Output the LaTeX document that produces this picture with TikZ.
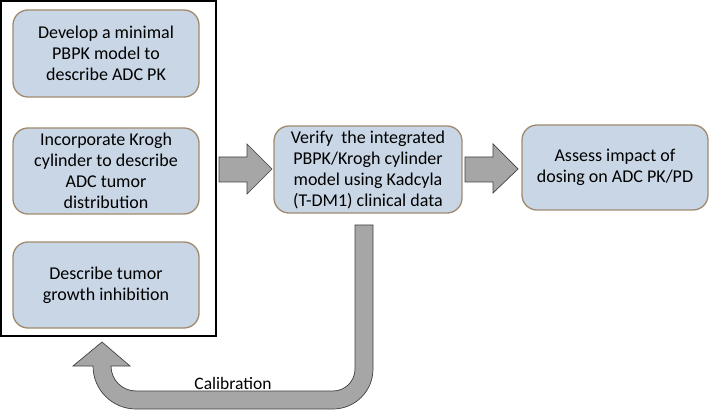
\documentclass[tikz,border=0pt]{standalone}
\usepackage{fontspec}
\setmainfont{Carlito}
\definecolor{boxfill}{HTML}{C9D6E5}
\definecolor{boxline}{HTML}{A08A6E}
\definecolor{arrfill}{HTML}{A6A6A6}
\definecolor{arrline}{HTML}{404040}
\begin{document}
\begin{tikzpicture}[x=1pt,y=1pt,
  stepbox/.style={draw=boxline,fill=boxfill,line width=1.3pt,rounded corners=15pt,
    align=center,font=\fontsize{18}{21}\selectfont,inner sep=0pt},
  blockarrow/.style={draw=arrline,fill=arrfill,line width=0.7pt,line join=miter}]
\useasboundingbox (0,0) rectangle (709,410);
\node[draw=black,line width=1.5pt,minimum width=215pt,minimum height=335pt,inner sep=0pt] (frame) at (108.5,241.5) {};
\node[stepbox,minimum width=186pt,minimum height=87pt] (b1) at (106,356.5) {Develop a minimal\\PBPK model to\\describe ADC PK};
\node[stepbox,minimum width=186pt,minimum height=86pt] (b2) at (106,239) {Incorporate Krogh\\cylinder to describe\\ADC tumor\\distribution};
\node[stepbox,minimum width=186pt,minimum height=86pt] (b3) at (106,125) {Describe tumor\\growth inhibition};
\node[stepbox,minimum width=188pt,minimum height=87pt] (mid) at (368,240.5) {Verify\ \ the integrated\\PBPK/Krogh cylinder\\model using Kadcyla\\(T-DM1) clinical data};
\node[stepbox,minimum width=186pt,minimum height=85pt] (right) at (615,242.5) {Assess impact of\\dosing on ADC PK/PD};
\draw[blockarrow] (219,253) -- (247,253) -- (247,266) -- (272,241) -- (247,216) -- (247,228) -- (219,228) -- cycle;
\draw[blockarrow] (465,253) -- (493,253) -- (493,266) -- (518,241) -- (493,217) -- (493,228) -- (465,228) -- cycle;
\draw[blockarrow] (355,185) -- (373,185) -- (373,41)
  arc[start angle=0,end angle=-90,radius=40pt] -- (136,1)
  arc[start angle=-90,end angle=-180,radius=43pt] -- (93,44) -- (73,44) -- (102,68) -- (130,44) -- (111,44)
  arc[start angle=180,end angle=270,radius=25pt] -- (333,19)
  arc[start angle=-90,end angle=0,radius=22pt] -- cycle;
\node[font=\fontsize{17.5}{20}\selectfont] (cal) at (233,27) {Calibration};
\end{tikzpicture}
\end{document}
